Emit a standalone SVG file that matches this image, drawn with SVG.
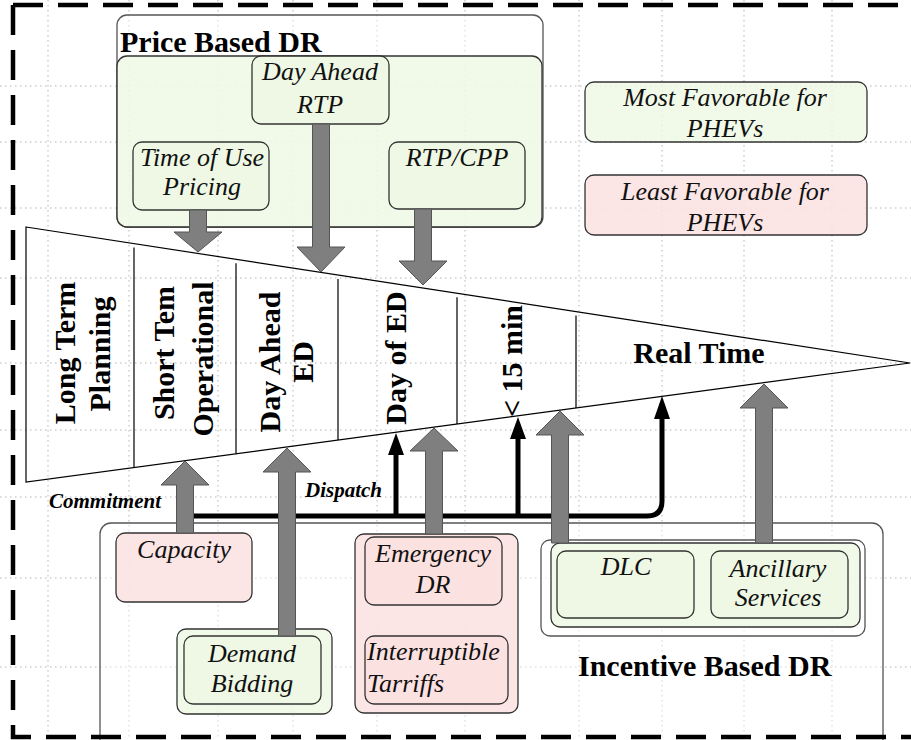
<svg xmlns="http://www.w3.org/2000/svg" width="911" height="740" viewBox="0 0 911 740">
<style>
.grid{stroke:#b4b4b4;stroke-width:1;stroke-dasharray:1.5 3.5;fill:none}
.frame{stroke:#000;stroke-width:4.5;stroke-dasharray:30 15;fill:none}
.grp{fill:#fff;fill-opacity:0.4;stroke:#555;stroke-width:1.3}
.g{fill:#eef8e2;fill-opacity:0.8;stroke:#333;stroke-width:1.3}
.r{fill:#fbe0e0;fill-opacity:0.85;stroke:#333;stroke-width:1.3}
.ga{fill:#7f7f7f;stroke:#555;stroke-width:1}
.blk{stroke:#000;stroke-width:5;fill:none}
.bh{fill:#000}
.wedge{fill:none;stroke:#000;stroke-width:1.2}
text{font-family:'Liberation Serif','DejaVu Serif','Times New Roman',serif}
.it{font-style:italic;font-size:26px;fill:#111;text-anchor:middle}
.bd{font-weight:bold;font-size:30px;fill:#000}
.bdm{font-weight:bold;font-size:30px;fill:#000;text-anchor:middle}
.bi{font-weight:bold;font-style:italic;font-size:21px;fill:#000}
</style>
<rect width="911" height="740" fill="#fff"/>
<g id="grid">
<path class="grid" d="M48 0V740M129 0V740M218 0V740M293 0V740M377 0V740M465 0V740M579 0V740M662 0V740M744 0V740M832 0V740"/>
<path class="grid" d="M0 86H911M0 142H911M0 208H911M0 278H911M0 363H911M0 430H911M0 497H911M0 578H911M0 667H911"/>
</g>
<g id="timeline">
<path class="wedge" d="M26 227L910 363L26 482Z"/>
<path class="wedge" d="M134 247.6V467.6M236 263.3V453.8M338 279V440M457 297.3V424M576 315.6V408"/>
<text class="bdm" font-family="Liberation Serif, serif" transform="translate(75,353) rotate(-90)">Long Term</text>
<text class="bdm" transform="translate(110,354) rotate(-90)">Planning</text>
<text class="bdm" transform="translate(174,353) rotate(-90)">Short Tem</text>
<text class="bdm" transform="translate(213,359) rotate(-90)">Operational</text>
<text class="bdm" transform="translate(280,362) rotate(-90)">Day Ahead</text>
<text class="bdm" transform="translate(313,362) rotate(-90)">ED</text>
<text class="bdm" transform="translate(406,358) rotate(-90)">Day of ED</text>
<text class="bdm" transform="translate(522,361) rotate(-90)">&lt; 15 min</text>
<text class="bdm" x="699" y="363">Real Time</text>
</g>
<g id="price-based-dr">
<rect class="grp" x="117" y="15" width="426" height="212" rx="10"/>
<rect class="g" x="117" y="56" width="425" height="171" rx="10"/>
<text class="bd" x="120" y="52">Price Based DR</text>
</g>
<g id="day-ahead-rtp">
<rect class="g" x="252" y="56" width="137" height="68" rx="9"/>
<text class="it" x="320" y="80">Day Ahead</text>
<text class="it" x="320" y="113">RTP</text>
</g>
<g id="time-of-use">
<rect class="g" x="133" y="142" width="136" height="68" rx="9"/>
<text class="it" x="202" y="166">Time of Use</text>
<text class="it" x="202" y="195">Pricing</text>
</g>
<g id="rtp-cpp">
<rect class="g" x="389" y="142" width="136" height="67" rx="9"/>
<text class="it" x="457" y="166">RTP/CPP</text>
</g>
<g id="legend-most">
<rect class="g" x="585" y="82" width="282" height="60" rx="9"/>
<text class="it" x="725" y="106">Most Favorable for</text>
<text class="it" x="725" y="137">PHEVs</text>
</g>
<g id="legend-least">
<rect class="r" x="585" y="175" width="282" height="60" rx="9"/>
<text class="it" x="725" y="200">Least Favorable for</text>
<text class="it" x="725" y="231">PHEVs</text>
</g>
<g id="incentive-based-dr">
<rect class="grp" x="100" y="523" width="783" height="230" rx="11"/>
<text class="bd" x="578" y="676">Incentive Based DR</text>
</g>
<g id="capacity">
<rect class="r" x="116" y="533" width="136" height="69" rx="9"/>
<text class="it" x="184" y="558">Capacity</text>
</g>
<g id="demand-bidding">
<rect class="g" x="177" y="629" width="155" height="85" rx="9"/>
<rect class="g" x="184" y="636" width="137" height="68" rx="9"/>
<text class="it" x="252" y="662">Demand</text>
<text class="it" x="252" y="692">Bidding</text>
</g>
<g id="emergency-group">
<rect class="r" x="355" y="534" width="163" height="179" rx="9"/>
</g>
<g id="emergency-dr">
<rect class="r" x="365" y="537" width="137" height="68" rx="9"/>
<text class="it" x="433" y="562">Emergency</text>
<text class="it" x="433" y="593">DR</text>
</g>
<g id="interruptible-tariffs">
<rect class="r" x="365" y="636" width="143" height="68" rx="9"/>
<text class="it" x="367" y="660" style="text-anchor:start">Interruptible</text>
<text class="it" x="367" y="692" style="text-anchor:start">Tarriffs</text>
</g>
<g id="dlc-ancillary-group">
<rect class="grp" x="541" y="540" width="324" height="96" rx="9"/>
<rect class="g" x="551" y="543" width="309" height="84" rx="9"/>
</g>
<g id="dlc">
<rect class="g" x="557" y="551" width="137" height="67" rx="9"/>
<text class="it" x="626" y="575">DLC</text>
</g>
<g id="ancillary-services">
<rect class="g" x="711" y="551" width="137" height="67" rx="9"/>
<text class="it" x="778" y="577">Ancillary</text>
<text class="it" x="778" y="606">Services</text>
</g>
<g id="connectors">
<path class="blk" d="M191 516H647Q662 516 662 501V416"/>
<path class="blk" d="M396 516V452"/>
<path class="blk" d="M518 516V436"/>
<polygon class="bh" points="654,419 670,419 662,396"/>
<polygon class="bh" points="388,455 404,455 396,433"/>
<polygon class="bh" points="510,439 526,439 518,417"/>
<polygon class="ga" points="189.5,210 206.5,210 206.5,232 222,232 198,252 174,232 189.5,232"/>
<polygon class="ga" points="312.5,124 329.5,124 329.5,247 345,247 321,272 297,247 312.5,247"/>
<polygon class="ga" points="414.5,209 431.5,209 431.5,261 447,261 423,285 399,261 414.5,261"/>
<polygon class="ga" points="176.5,533 193.5,533 193.5,485 209,485 185,461 161,485 176.5,485"/>
<polygon class="ga" points="278.5,636 295.5,636 295.5,472 311,472 287,448 263,472 278.5,472"/>
<polygon class="ga" points="425.5,534 442.5,534 442.5,451 458,451 434,428 410,451 425.5,451"/>
<polygon class="ga" points="551.5,543 568.5,543 568.5,435 584,435 560,411 536,435 551.5,435"/>
<polygon class="ga" points="755.5,543 772.5,543 772.5,408 788,408 764,384 740,408 755.5,408"/>
<text class="bi" x="49" y="508">Commitment</text>
<text class="bi" x="305" y="497">Dispatch</text>
</g>
<g id="frame">
<path class="frame" d="M13 5H911"/>
<path class="frame" d="M13 5V737H911"/>
</g>
</svg>
